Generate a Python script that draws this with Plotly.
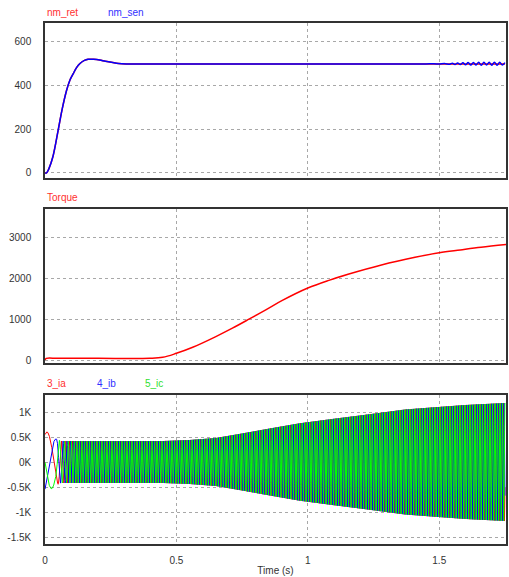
import numpy as np
import plotly.graph_objects as go

# ---------------- data ----------------
# Panel 1: speed (rpm)
speed_ref_t = [0, 0.006, 0.015, 0.03, 0.05, 0.065, 0.082, 0.095, 0.107, 0.12, 0.133, 0.15, 0.164,
               0.185, 0.208, 0.23, 0.258, 0.28, 0.309, 0.35, 1.75]
speed_ref_v = [0, 0, 20, 74, 195, 290, 377, 425, 453, 482, 501, 515, 520,
               520, 517, 511, 505, 501, 499, 499, 499]
speed_sen_t = speed_ref_t[:-1] + [1.40, 1.45, 1.48, 1.50, 1.52, 1.54, 1.55, 1.56, 1.57, 1.58, 1.59,
                                  1.60, 1.61, 1.62, 1.63, 1.64, 1.65, 1.66, 1.67, 1.68, 1.69,
                                  1.70, 1.71, 1.72, 1.73, 1.74, 1.75]
speed_sen_v = speed_ref_v[:-1] + [499, 499, 500, 498, 501, 497, 502, 496, 503, 496, 504,
                                  495, 505, 494, 505, 494, 506, 493, 506, 494, 506,
                                  493, 507, 493, 506, 494, 505]

# Panel 2: torque
torque_t = [0, 0.005, 0.05, 0.2, 0.398, 0.448, 0.5, 0.562, 0.65, 0.713, 0.776, 0.84, 0.903,
            1.0, 1.08, 1.153, 1.28, 1.408, 1.5, 1.58, 1.659, 1.754]
torque_v = [0, 40, 40, 40, 41, 65, 163, 310, 571, 776, 996, 1224, 1453,
            1755, 1943, 2090, 2317, 2504, 2617, 2685, 2750, 2815]

# Panel 3: phase currents — envelope (A) and electrical frequency (Hz)
env_t = [0, 0.02, 0.04, 0.06, 0.3, 0.45, 0.55, 0.65, 0.75, 0.85, 0.97, 1.1, 1.22, 1.37, 1.47, 1.6, 1.75]
env_a = [630, 560, 470, 420, 420, 420, 440, 480, 570, 665, 775, 865, 945, 1050, 1090, 1140, 1180]
freq_t = [0, 0.04, 0.05, 0.07, 0.12, 1.75]
freq_hz = [9, 10, 30, 60, 105, 105]

# tick labels
x_ticks = [0, 0.5, 1, 1.5]
x_labels = ["0", "0.5", "1", "1.5"]
y1_ticks = [0, 200, 400, 600]
y2_ticks = [0, 1000, 2000, 3000]
y3_ticks = [-1500, -1000, -500, 0, 500, 1000]
y3_labels = ["-1.5K", "-1K", "-0.5K", "0K", "0.5K", "1K"]

# ---------------- build ----------------
t = np.linspace(0, 1.75, 12000)
dt = t[1] - t[0]
theta = 2 * np.pi * np.cumsum(np.interp(t, freq_t, freq_hz)) * dt
amp = np.interp(t, env_t, env_a)
ia = amp * np.sin(theta + np.pi / 3)
ib = amp * np.sin(theta - np.pi / 3)
ic = amp * np.sin(theta + np.pi)

RED, BLUE, GREEN = "#ff0000", "#0000ff", "#00ff00"
FONT = "Liberation Sans, Arial, sans-serif"

fig = go.Figure()
fig.add_trace(go.Scatter(x=speed_ref_t, y=speed_ref_v, mode="lines", line=dict(color=RED, width=1.5, shape="spline"),
                         xaxis="x", yaxis="y"))
fig.add_trace(go.Scatter(x=speed_sen_t, y=speed_sen_v, mode="lines", line=dict(color=BLUE, width=1.5, shape="spline"),
                         xaxis="x", yaxis="y"))
fig.add_trace(go.Scatter(x=torque_t, y=torque_v, mode="lines", line=dict(color=RED, width=1.5, shape="spline"),
                         xaxis="x2", yaxis="y2"))
for y, c in ((ia, RED), (ib, BLUE), (ic, GREEN)):
    fig.add_trace(go.Scatter(x=t, y=y, mode="lines", line=dict(color=c, width=1),
                             xaxis="x3", yaxis="y3"))

H_TOP, H_BOT, PLOT_H = 23, 33, 577 - 23 - 33


def py(pix):
    return (544 - pix) / PLOT_H


def px(pix):
    return (pix - 45) / 463


grid = dict(showgrid=True, gridcolor="#a8a8a8", griddash="3px,3px", gridwidth=1, zeroline=False,
            showline=True, mirror=True, linecolor="#333333", linewidth=1.5,
            ticks="outside", tickcolor="rgba(0,0,0,0)",
            tickfont=dict(family=FONT, size=10, color="#333333"))

xcommon = dict(grid, range=[0, 1.754], tickvals=x_ticks, ticktext=x_labels, ticklen=6)
fig.update_layout(
    width=509, height=577,
    margin=dict(l=45, r=1, t=H_TOP, b=H_BOT),
    paper_bgcolor="white", plot_bgcolor="white",
    showlegend=False,
    font=dict(family=FONT, size=10, color="#333333"),
    xaxis=dict(xcommon, domain=[0, 1], anchor="y", showticklabels=False),
    xaxis2=dict(xcommon, domain=[0, 1], anchor="y2", showticklabels=False),
    xaxis3=dict(xcommon, domain=[0, 1], anchor="y3",
                title=dict(text="Time (s)", standoff=2, font=dict(family=FONT, size=10, color="#333333"))),
    yaxis=dict(grid, domain=[py(178), py(23)], range=[-23, 686], tickvals=y1_ticks, ticklen=10, anchor="x"),
    yaxis2=dict(grid, domain=[py(363), py(209)], range=[-73, 3683], tickvals=y2_ticks, ticklen=10, anchor="x2"),
    yaxis3=dict(grid, domain=[py(544), py(395)], range=[-1640, 1340], tickvals=y3_ticks, ticktext=y3_labels,
                ticklen=10, anchor="x3"),
)

labels = [("nm_ret", 45, 13, "#ff3030"), ("nm_sen", 106, 13, "#3030ff"),
          ("Torque", 45, 197, "#ff3030"),
          ("3_ia", 45, 383, "#ff3030"), ("4_ib", 95, 383, "#3030ff"), ("5_ic", 143, 383, "#30e030")]
for text, x0, y0, col in labels:
    fig.add_annotation(text=text, x=px(x0), y=py(y0), xref="paper", yref="paper",
                       xanchor="left", yanchor="middle", showarrow=False,
                       font=dict(family=FONT, size=10, color=col))

fig.write_html("out.html", config={"displayModeBar": False},
               post_script="document.body.style.margin='0';document.body.style.overflow='hidden';")
